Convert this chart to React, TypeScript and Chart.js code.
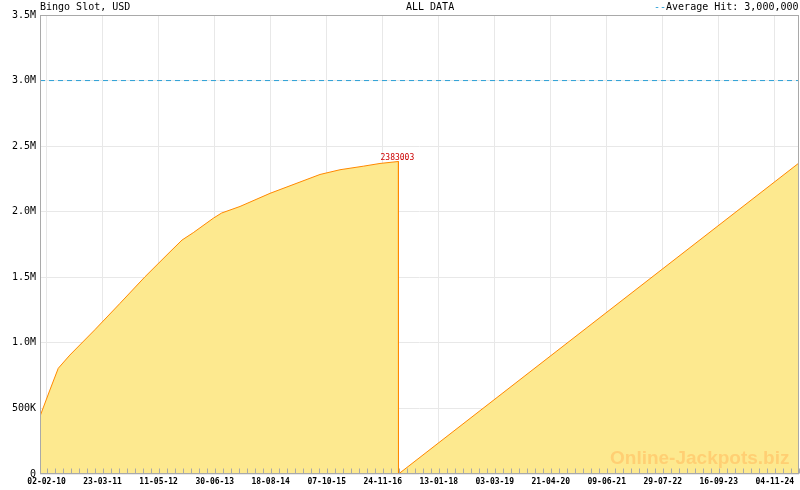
import React, { useEffect, useRef } from "react";
import { Chart, registerables } from "chart.js";

Chart.register(...registerables);

// jackpot history (date, amount in USD)
const hitDates = [
  "2009-12-15", "2010-02-26", "2010-04-29", "2010-07-24", "2011-01-25",
  "2011-07-29", "2012-01-31", "2012-08-03", "2012-10-31", "2013-01-22",
  "2013-06-19", "2013-08-20", "2014-01-03", "2014-08-13", "2015-08-18",
  "2016-01-13", "2016-07-03", "2016-11-04", "2017-03-20", "2017-03-21",
  "2025-05-02",
];
const jackpotValues = [
  440000, 640000, 806000, 907000, 1100000,
  1300000, 1504000, 1694000, 1784000, 1840000,
  1950000, 1990000, 2040000, 2140000, 2284000,
  2320000, 2347000, 2368000, 2383003, 0,
  2372000,
];
const averageHit = 3000000;

const yTickValues = [0, 500000, 1000000, 1500000, 2000000, 2500000, 3000000, 3500000];
const xTickLabels = [
  "02-02-10", "23-03-11", "11-05-12", "30-06-13", "18-08-14", "07-10-15", "24-11-16",
  "13-01-18", "03-03-19", "21-04-20", "09-06-21", "29-07-22", "16-09-23", "04-11-24",
];
const minorPerMajor = 7;

const dayZero = Date.UTC(2010, 1, 2);
const toDay = (iso: string) => (Date.parse(iso + "T00:00:00Z") - dayZero) / 86400000;
const labelToDay = (s: string) => {
  const [d, m, y] = s.split("-");
  return toDay(`20${y}-${m}-${d}`);
};

const formatY = (v: number) => {
  if (v === 0) return "0";
  if (v < 1000000) return `${v / 1000}K`;
  return `${(v / 1000000).toFixed(1)}M`;
};

export default function App() {
  const canvasRef = useRef<HTMLCanvasElement>(null);

  useEffect(() => {
    document.body.style.margin = "0";

    const points = hitDates.map((d, i) => ({ x: toDay(d), y: jackpotValues[i] }));
    const xMin = points[0].x;
    const xMax = points[points.length - 1].x;

    const majorDays = xTickLabels.map(labelToDay);
    const labelMap = new Map<number, string>();
    majorDays.forEach((d, i) => labelMap.set(d, xTickLabels[i]));
    const avgStep = (majorDays[majorDays.length - 1] - majorDays[0]) / (majorDays.length - 1) / minorPerMajor;

    const xTicks: number[] = [];
    for (let v = majorDays[0] - avgStep; v >= xMin; v -= avgStep) xTicks.unshift(v);
    majorDays.forEach((d, i) => {
      xTicks.push(d);
      if (i < majorDays.length - 1) {
        const st = (majorDays[i + 1] - d) / minorPerMajor;
        for (let j = 1; j < minorPerMajor; j++) xTicks.push(d + j * st);
      }
    });
    for (let v = majorDays[majorDays.length - 1] + avgStep; v <= xMax; v += avgStep) xTicks.push(v);

    const peakIdx = jackpotValues.indexOf(Math.max(...jackpotValues));

    const frame = {
      id: "frame",
      afterDatasetsDraw(chart: any) {
        const { ctx, chartArea } = chart;
        const l = Math.round(chartArea.left) + 0.5;
        const r = Math.round(chartArea.right) - 0.5;
        const t = Math.round(chartArea.top) + 0.5;
        const b = Math.round(chartArea.bottom) - 0.5;
        ctx.save();
        ctx.strokeStyle = "#a9a9a9";
        ctx.lineWidth = 1;
        ctx.strokeRect(l, t, r - l, b - t);
        // inward tick marks
        const xs = chart.scales.x;
        ctx.beginPath();
        xTicks.forEach((v) => {
          const px = Math.round(xs.getPixelForValue(v)) + 0.5;
          ctx.moveTo(px, b);
          ctx.lineTo(px, b - 5);
        });
        ctx.stroke();
        // peak value
        const pt = chart.getDatasetMeta(0).data[peakIdx];
        ctx.fillStyle = "#cc0000";
        ctx.font = "8px 'DejaVu Sans Mono'";
        ctx.textAlign = "center";
        ctx.textBaseline = "alphabetic";
        ctx.fillText(String(jackpotValues[peakIdx]), pt.x - 1, pt.y - 1.5);
        ctx.restore();
      },
    };

    const chart = new Chart(canvasRef.current!, {
      type: "line",
      data: {
        datasets: [
          {
            data: points,
            borderColor: "#ff8800",
            backgroundColor: "#fde98f",
            borderWidth: 1,
            fill: "origin",
            tension: 0,
            pointRadius: 0,
          },
          {
            data: [
              { x: xMin, y: averageHit },
              { x: xMax, y: averageHit },
            ],
            borderColor: "#2a9fd6",
            borderDash: [5, 4],
            borderWidth: 1,
            fill: false,
            pointRadius: 0,
          },
        ],
      },
      options: {
        animation: false,
        responsive: true,
        maintainAspectRatio: false,
        layout: { padding: { top: 15, right: 1, left: 0, bottom: 0 } },
        plugins: {
          legend: { display: false },
          tooltip: { enabled: false },
        },
        scales: {
          x: {
            type: "linear",
            min: xMin,
            max: xMax,
            afterBuildTicks: (scale: any) => {
              scale.ticks = xTicks.map((v) => ({ value: v }));
            },
            afterFit: (scale: any) => {
              scale.height = 16;
              scale.paddingLeft = 0;
              scale.paddingRight = 0;
            },
            grid: {
              drawTicks: false,
              color: (ctx: any) =>
                ctx.tick && labelMap.has(ctx.tick.value) ? "#e8e8e8" : "rgba(0,0,0,0)",
            },
            border: { display: false },
            ticks: {
              autoSkip: false,
              maxRotation: 0,
              padding: 3,
              color: "#000",
              font: { family: "DejaVu Sans Mono", size: 8, weight: "bold" },
              callback: (v: any) => labelMap.get(v) ?? "",
            },
          },
          y: {
            min: 0,
            max: yTickValues[yTickValues.length - 1],
            afterBuildTicks: (scale: any) => {
              scale.ticks = yTickValues.map((v) => ({ value: v }));
            },
            afterFit: (scale: any) => {
              scale.width = 40;
              scale.paddingTop = 0;
              scale.paddingBottom = 0;
            },
            grid: { drawTicks: false, color: "#e8e8e8" },
            border: { display: false },
            ticks: {
              padding: 4,
              color: "#000",
              font: { family: "DejaVu Sans Mono", size: 10 },
              callback: (v: any) => formatY(v),
            },
          },
        },
      },
      plugins: [frame],
    });

    return () => chart.destroy();
  }, []);

  const head: React.CSSProperties = {
    position: "absolute",
    top: 1,
    lineHeight: "12px",
    fontSize: 10,
    fontFamily: "'DejaVu Sans Mono', monospace",
    color: "#000",
    whiteSpace: "pre",
  };

  return (
    <div style={{ position: "relative", width: 800, height: 490, background: "#fff" }}>
      <canvas ref={canvasRef} style={{ display: "block" }}></canvas>
      <div style={{ ...head, left: 40 }}>Bingo Slot, USD</div>
      <div style={{ ...head, left: 406 }}>ALL DATA</div>
      <div style={{ ...head, left: 654 }}>
        <span style={{ color: "#2a9fd6" }}>--</span>
        Average Hit: {averageHit.toLocaleString("en-US")}
      </div>
      <div
        style={{
          position: "absolute",
          left: 610,
          top: 448,
          lineHeight: "20px",
          fontSize: 19,
          fontWeight: "bold",
          fontFamily: "'Liberation Sans', Arial, sans-serif",
          color: "#ffcf73",
          whiteSpace: "pre",
          pointerEvents: "none",
        }}
      >
        Online-Jackpots.biz
      </div>
    </div>
  );
}
